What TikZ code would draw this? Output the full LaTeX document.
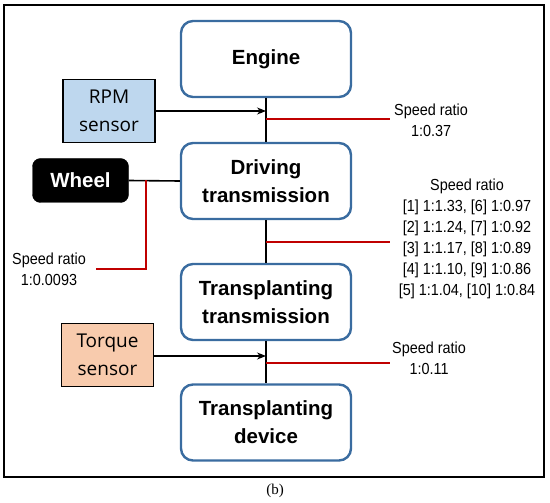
\documentclass[tikz,border=0pt]{standalone}
\usepackage{fontspec}
\setmainfont{Liberation Sans}
\newfontfamily\srfont{Liberation Sans}[FakeStretch=0.9]
\newfontfamily\osfont{Open Sans}
\newfontfamily\capfont{Liberation Serif}
\usetikzlibrary{arrows.meta}
\definecolor{boxblue}{RGB}{58,108,160}
\definecolor{rpmfill}{RGB}{190,215,238}
\definecolor{torqfill}{RGB}{248,203,173}
\definecolor{ratiored}{RGB}{192,0,0}
\tikzset{
  unit/.style={draw=boxblue, line width=2.4pt, rounded corners=12pt, fill=white,
    minimum width=170pt, minimum height=76pt, align=center,
    font=\fontsize{20.5}{28}\selectfont\bfseries, inner sep=0pt},
  sensor/.style={draw=black, line width=1.4pt, minimum width=92pt, minimum height=63pt,
    align=center, font=\osfont\fontsize{19}{28}\selectfont, inner sep=0pt},
  wheelbox/.style={draw=black, fill=black, text=white, rounded corners=8pt,
    minimum width=96pt, minimum height=44pt, font=\fontsize{20.5}{24}\selectfont\bfseries, inner sep=0pt},
  shaft/.style={draw=black, line width=2pt},
  signal/.style={draw=black, line width=1.1pt, -{Stealth[length=9pt,width=7pt]}},
  ratio/.style={draw=ratiored, line width=1.4pt},
  ratiolabel/.style={align=center, font=\srfont\fontsize{16}{21}\selectfont, inner sep=0pt},
}
\begin{document}
\begin{tikzpicture}[x=1pt,y=-1pt]
\useasboundingbox (0,0) rectangle (550,503);
\draw[line width=1.4pt] (4,5) rectangle (544,477);
\node[font=\capfont\fontsize{15}{17}\selectfont, inner sep=0pt] (cap) at (275,491) {(b)};

\node[unit] (engine) at (266,59) {Engine};
\node[unit] (drive) at (266,181) {Driving\\transmission};
\node[unit] (ttrans) at (266,302) {Transplanting\\transmission};
\node[unit] (tdev) at (266,422.5) {Transplanting\\device};

\node[sensor, fill=rpmfill] (rpm) at (109,111) {RPM\\sensor};
\node[sensor, fill=torqfill] (torque) at (107.5,355) {Torque\\sensor};
\node[wheelbox] (wheel) at (80.5,180.5) {Wheel};

\draw[shaft] (engine.south) -- (drive.north);
\draw[shaft] (drive.south) -- (ttrans.north);
\draw[shaft] (ttrans.south) -- (tdev.north);
\draw[shaft, line width=1.6pt] (wheel.east) -- (drive.west);

\draw[signal] (rpm.east) -- (rpm.east -| engine.south);
\draw[signal] (torque.east |- 0,356) -- (engine.south |- 0,356);

% speed ratio labels
\node[ratiolabel, anchor=west] (sr1) at (394,120) {Speed ratio\\1:0.37};
\node[ratiolabel] (sr2) at (467,238.5) {Speed ratio\\{[1]} 1:1.33, [6] 1:0.97\\{[2]} 1:1.24, [7] 1:0.92\\{[3]} 1:1.17, [8] 1:0.89\\{[4]} 1:1.10, [9] 1:0.86\\{[5]} 1:1.04, [10] 1:0.84};
\node[ratiolabel, anchor=west] (sr3) at (392,358) {Speed ratio\\1:0.11};
\node[ratiolabel] (sr4) at (49,269.5) {Speed ratio\\1:0.0093};

\coordinate (r1a) at (engine.south |- 0,119);
\coordinate (r2a) at (engine.south |- 0,242);
\coordinate (r2b) at (390,242);
\coordinate (r3a) at (engine.south |- 0,363);
\coordinate (r3b) at (390,363);
\coordinate (w1) at (146,180.5);
\coordinate (w2) at (146,269);
\coordinate (w3) at (96,269);

\draw[ratio] (r1a) -- (390,119);
\draw[ratio] (r2a) -- (r2b);
\draw[ratio] (r3a) -- (r3b);
\draw[ratio] (w1) -- (w2) -- (w3);
\end{tikzpicture}
\end{document}
